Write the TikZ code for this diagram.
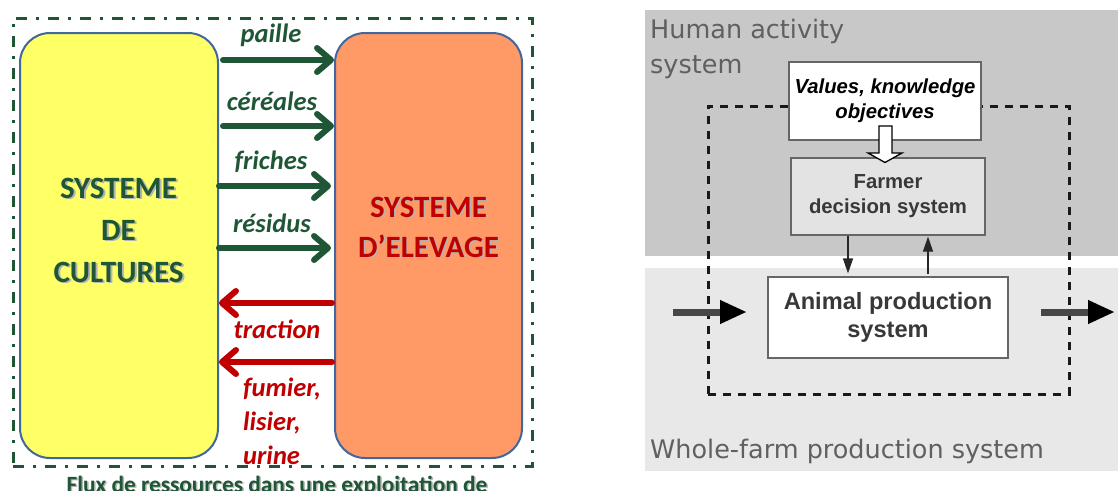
\documentclass[tikz,border=0pt]{standalone}
\usepackage{fontspec}
\setmainfont{Carlito}
\newfontfamily\arialf{Liberation Sans}
\newfontfamily\verdf{DejaVu Sans}
\usetikzlibrary{arrows.meta}
\definecolor{dgreen}{HTML}{1F5635}
\definecolor{dred}{HTML}{C00000}
\definecolor{yel}{HTML}{FFFF66}
\definecolor{ora}{HTML}{FF9966}
\definecolor{bordblue}{HTML}{41679C}
\definecolor{topgray}{HTML}{C8C8C8}
\definecolor{lowgray}{HTML}{E8E8E8}
\definecolor{txtgray}{HTML}{606060}
\definecolor{boxtxt}{HTML}{383838}
\definecolor{shadowc}{HTML}{B4B4B4}
\definecolor{boxline}{HTML}{666666}
\begin{document}
\begin{tikzpicture}[x=1pt,y=-1pt,
  sysbox/.style={draw=bordblue, line width=2pt, rounded corners=30pt, inner sep=0pt},
  flow/.style={line width=6pt, line cap=round, -{Straight Barb[length=14pt,width=24pt,line cap=round,line join=round]}},
  greenflow/.style={flow, draw=dgreen},
  redflow/.style={flow, draw=dred},
  biglab/.style={font=\fontsize{31}{42}\selectfont\bfseries, align=center, inner sep=0pt},
  lab/.style={font=\fontsize{26.5}{34}\selectfont\bfseries\itshape, inner sep=0pt},
  rbox/.style={draw=boxline, line width=1.2pt, inner sep=0pt, align=center},
  thinarrow/.style={line width=1.2pt, draw=black!85, -{Triangle[length=15pt,width=10pt]}},
  bigarrow/.style={line width=7pt, draw=black!72, -{Triangle[length=27pt,width=22pt,color=black]}},
  areatext/.style={font=\verdf\fontsize{25.5}{35}\selectfont, text=txtgray, inner sep=0pt, align=left}
]
\useasboundingbox (0,0) rectangle (1118,490);
% ================= LEFT PANEL =================
\node[draw=dgreen, line width=3pt, dash pattern=on 11pt off 9pt on 3pt off 9pt,
      minimum width=519pt, minimum height=448pt, inner sep=0pt] (frame) at (272.5,242) {};
\node[sysbox, fill=yel, minimum width=198pt, minimum height=425pt] (cult) at (119,245.5) {};
\node[sysbox, fill=ora, minimum width=187pt, minimum height=425pt] (elev) at (428.5,245.5) {};

% shadows + labels
\node[biglab, text=shadowc] (cultS) at (120.5,231.5) {SYSTEME\\DE\\CULTURES};
\node[biglab, text=dgreen] (cultT) at (118.5,230) {SYSTEME\\DE\\CULTURES};
\node[biglab, text=shadowc, font=\fontsize{31}{40}\selectfont\bfseries] (elevS) at (430,228.5) {SYSTEME\\D’ELEVAGE};
\node[biglab, text=dred, font=\fontsize{31}{40}\selectfont\bfseries] (elevT) at (428.5,227) {SYSTEME\\D’ELEVAGE};

\coordinate (y1) at (0,60);
\coordinate (y2) at (0,126);
\coordinate (y3) at (0,186);
\coordinate (y4) at (0,248);
\coordinate (y5) at (0,303);
\coordinate (y6) at (0,362);

\draw[greenflow, shorten <=4pt] (cult.east |- y1) -- (elev.west |- y1);
\draw[greenflow, shorten <=4pt] (cult.east |- y2) -- (elev.west |- y2);
\draw[greenflow, shorten >=3pt] (cult.east |- y3) -- (elev.west |- y3);
\draw[greenflow, shorten >=3pt] (cult.east |- y4) -- (elev.west |- y4);
\draw[redflow, shorten <=2pt] (elev.west |- y5) -- (cult.east |- y5);
\draw[redflow, shorten <=2pt] (elev.west |- y6) -- (cult.east |- y6);

\node[lab, text=dgreen] (lpaille) at (271,35) {paille};
\node[lab, text=dgreen] (lcer) at (272,101) {céréales};
\node[lab, text=dgreen] (lfri) at (271,162) {friches};
\node[lab, text=dgreen] (lres) at (272,223) {résidus};
\node[lab, text=dred] (ltrac) at (277,329) {traction};
\node[lab, text=dred, align=left, anchor=west] (lfum) at (243,421) {fumier,\\lisier,\\urine};

\node[font=\fontsize{23.3}{26}\selectfont\bfseries, text=shadowc, inner sep=0pt, anchor=base] (capS) at (278.5,493.5) {Flux de ressources dans une exploitation de};
\node[font=\fontsize{23.3}{26}\selectfont\bfseries, text=dgreen, inner sep=0pt, anchor=base] (cap) at (277,492) {Flux de ressources dans une exploitation de};

% ================= RIGHT PANEL =================
\fill[topgray] (645,10) rectangle (1118,256);
\fill[lowgray] (645,268) rectangle (1118,471);

\node[areatext, anchor=base west] (hum) at (650,73) {Human activity\\system};
\node[areatext, anchor=base west] (whole) at (650,458) {Whole-farm production system};

\node[draw=black!90, line width=3pt, dash pattern=on 8pt off 7pt, minimum width=361pt, minimum height=288pt, inner sep=0pt] (loop) at (888.5,250) {};

\node[rbox, fill=white, minimum width=192pt, minimum height=78pt,
      font=\arialf\fontsize{20.3}{25}\selectfont\bfseries\itshape, text=black] (values) at (885,101) {Values, knowledge\\objectives};
\node[rbox, fill=black!11, minimum width=194pt, minimum height=77pt,
      font=\arialf\fontsize{20.3}{25}\selectfont\bfseries, text=boxtxt] (farmer) at (888,196.5) {Farmer\\decision system};
\node[rbox, fill=white, minimum width=240pt, minimum height=81pt,
      font=\arialf\fontsize{23.6}{28}\selectfont\bfseries, text=boxtxt] (animal) at (888,317.5) {Animal production\\system};

% hollow arrow
\draw[fill=white, draw=black, line width=1.3pt, line join=miter]
  (879,126) -- (892,126) -- (892,153) -- (902,153) -- (885,162.5) -- (868,153) -- (879,153) -- cycle;

\coordinate (xd) at (848,0);
\coordinate (xu) at (928,0);
\draw[thinarrow, shorten >=3pt] (farmer.south -| xd) -- (animal.north -| xd);
\draw[thinarrow, shorten <=2pt, shorten >=1pt] (animal.north -| xu) -- (farmer.south -| xu);

\coordinate (inA) at (673,312);
\coordinate (inB) at (747,312);
\coordinate (outA) at (1041,312);
\coordinate (outB) at (1115,312);
\draw[bigarrow] (inA) -- (inB);
\draw[bigarrow] (outA) -- (outB);
\end{tikzpicture}
\end{document}
